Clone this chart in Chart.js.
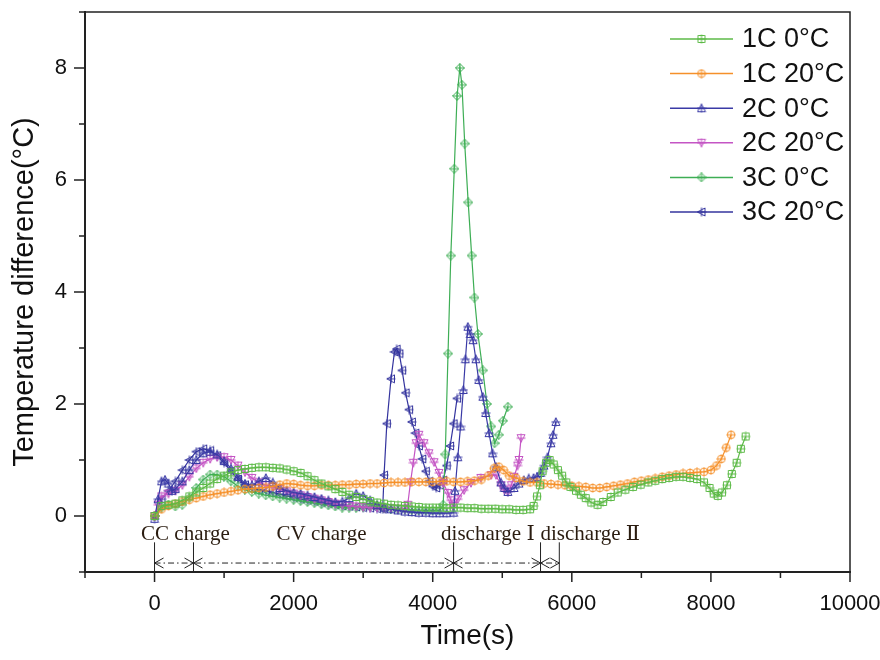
<!DOCTYPE html>
<html><head><meta charset="utf-8">
<script src="https://cdn.jsdelivr.net/npm/chart.js@4/dist/chart.umd.min.js"></script>
<style>html,body{margin:0;padding:0;background:#fff}</style>
</head><body>
<canvas id="c" width="880" height="660"></canvas>
<script>
// ---------- DATA ----------
const seriesNames = ['1C 0°C', '1C 20°C', '2C 0°C', '2C 20°C', '3C 0°C', '3C 20°C'];

const t_1C0 = [0,100,200,300,400,500,600,700,800,900,1000,1100,1200,1300,1400,1500,1600,1700,1800,1900,2000,2100,2200,2300,2400,2500,2600,2700,2800,2900,3000,3100,3200,3300,3400,3500,3600,3700,3800,3900,4000,4100,4200,4300,4400,4500,4600,4700,4800,4900,5000,5100,5200,5300,5400,5450,5500,5540,5580,5630,5680,5740,5800,5860,5920,5980,6060,6130,6200,6280,6370,6450,6560,6660,6770,6880,6990,7100,7200,7300,7400,7500,7600,7700,7800,7900,7980,8040,8100,8160,8230,8300,8370,8430,8500];
const v_1C0 = [0,0.18,0.2,0.22,0.28,0.35,0.42,0.5,0.58,0.66,0.72,0.78,0.82,0.84,0.86,0.87,0.87,0.86,0.85,0.83,0.8,0.77,0.71,0.64,0.58,0.53,0.48,0.43,0.38,0.34,0.3,0.27,0.24,0.22,0.2,0.19,0.18,0.17,0.16,0.15,0.15,0.15,0.14,0.15,0.15,0.14,0.14,0.13,0.13,0.13,0.12,0.12,0.11,0.11,0.12,0.18,0.35,0.55,0.8,0.95,1.0,0.92,0.82,0.72,0.6,0.52,0.45,0.38,0.32,0.24,0.2,0.25,0.34,0.42,0.47,0.52,0.56,0.6,0.63,0.66,0.68,0.7,0.7,0.68,0.66,0.6,0.5,0.4,0.36,0.42,0.55,0.75,0.95,1.2,1.42];

const t_1C20 = [0,100,200,300,400,500,600,700,800,900,1000,1100,1200,1300,1400,1500,1600,1700,1800,1900,2000,2100,2200,2300,2400,2500,2600,2700,2800,2900,3000,3100,3200,3300,3400,3500,3600,3700,3800,3900,4000,4100,4200,4300,4400,4500,4600,4700,4800,4880,4950,5020,5100,5200,5300,5400,5500,5600,5700,5800,5900,6000,6100,6200,6300,6400,6500,6600,6700,6800,6900,7000,7100,7200,7300,7400,7500,7600,7700,7800,7900,8000,8080,8150,8220,8290];
const v_1C20 = [0,0.12,0.18,0.22,0.26,0.29,0.32,0.35,0.38,0.4,0.42,0.44,0.46,0.48,0.49,0.5,0.51,0.53,0.56,0.58,0.57,0.55,0.54,0.54,0.55,0.55,0.55,0.56,0.56,0.57,0.57,0.58,0.58,0.59,0.6,0.6,0.6,0.61,0.61,0.61,0.61,0.62,0.62,0.61,0.61,0.62,0.63,0.65,0.72,0.85,0.88,0.82,0.72,0.68,0.62,0.6,0.6,0.58,0.57,0.56,0.55,0.54,0.53,0.52,0.5,0.5,0.52,0.54,0.56,0.58,0.61,0.63,0.65,0.67,0.7,0.72,0.74,0.76,0.77,0.78,0.79,0.82,0.9,1.02,1.22,1.45];

const t_2C0 = [0,50,100,150,200,250,300,400,500,600,700,800,900,1000,1100,1200,1300,1400,1500,1600,1700,1800,1900,2000,2100,2200,2300,2400,2500,2600,2700,2800,2900,3000,3100,3200,3300,3400,3500,3600,3700,3800,3900,4000,4100,4200,4300,4320,4360,4400,4440,4470,4505,4540,4580,4620,4660,4720,4760,4810,4860,4910,4980,5030,5080,5170,5240,5310,5380,5450,5500,5550,5600,5650,5700,5730,5770];
const v_2C0 = [-0.05,0.3,0.62,0.65,0.58,0.45,0.48,0.62,0.82,1.0,1.12,1.15,1.1,0.98,0.85,0.7,0.58,0.55,0.62,0.68,0.6,0.5,0.45,0.42,0.4,0.37,0.34,0.31,0.28,0.25,0.26,0.32,0.4,0.36,0.28,0.2,0.15,0.12,0.1,0.08,0.07,0.06,0.06,0.05,0.05,0.05,0.06,0.45,1.05,1.6,2.25,2.8,3.38,3.25,3.14,2.8,2.43,2.13,1.84,1.48,1.12,0.88,0.6,0.5,0.43,0.5,0.58,0.64,0.67,0.68,0.7,0.77,0.9,1.05,1.3,1.45,1.68];

const t_2C20 = [0,50,100,200,300,400,500,600,700,800,900,1000,1100,1200,1300,1400,1500,1600,1700,1800,1900,2000,2100,2200,2300,2400,2500,2600,2700,2800,2900,3000,3100,3200,3300,3400,3500,3600,3640,3680,3720,3760,3800,3875,3945,4020,4090,4150,4220,4260,4290,4360,4450,4550,4690,4840,4910,4980,5030,5080,5130,5170,5220,5240,5270];
const v_2C20 = [0,0.2,0.35,0.4,0.45,0.55,0.7,0.85,0.95,1.02,1.05,1.05,1.0,0.9,0.78,0.68,0.6,0.55,0.52,0.48,0.44,0.4,0.37,0.34,0.31,0.28,0.25,0.22,0.2,0.18,0.17,0.16,0.15,0.15,0.14,0.14,0.13,0.13,0.2,0.6,0.95,1.3,1.45,1.3,1.12,0.96,0.77,0.59,0.41,0.28,0.18,0.3,0.46,0.59,0.68,0.73,0.73,0.55,0.47,0.43,0.55,0.7,0.9,1.0,1.39];

const t_3C0 = [0,100,200,300,400,500,600,700,800,900,1000,1100,1200,1300,1400,1500,1600,1700,1800,1900,2000,2100,2200,2300,2400,2500,2600,2700,2800,2900,3000,3100,3200,3300,3400,3500,3600,3700,3800,3900,4000,4100,4150,4180,4220,4260,4310,4350,4390,4420,4460,4510,4560,4600,4650,4720,4780,4840,4890,4950,5010,5080];
const v_3C0 = [0,0.15,0.2,0.17,0.2,0.32,0.5,0.65,0.74,0.74,0.7,0.62,0.53,0.47,0.43,0.4,0.37,0.35,0.33,0.31,0.29,0.27,0.25,0.23,0.21,0.19,0.17,0.15,0.15,0.15,0.16,0.18,0.17,0.15,0.13,0.12,0.12,0.11,0.1,0.1,0.1,0.1,0.2,1.1,2.9,4.65,6.2,7.5,8.0,7.7,6.65,5.6,4.65,3.9,3.25,2.6,2.0,1.6,1.3,1.45,1.7,1.95];

const t_3C20 = [0,100,200,300,400,500,600,700,800,900,1000,1100,1200,1300,1400,1500,1600,1700,1800,1900,2000,2100,2200,2300,2400,2500,2600,2700,2800,2900,3000,3100,3200,3280,3300,3340,3400,3450,3480,3520,3560,3610,3660,3700,3750,3800,3850,3900,3950,4000,4050,4100,4150,4200,4250,4300,4350];
const v_3C20 = [0,0.3,0.45,0.62,0.82,1.0,1.15,1.2,1.17,1.08,0.95,0.8,0.66,0.56,0.5,0.47,0.45,0.42,0.39,0.36,0.33,0.3,0.28,0.26,0.24,0.22,0.2,0.18,0.17,0.16,0.15,0.14,0.13,0.12,0.73,1.65,2.45,2.93,2.98,2.9,2.6,2.2,1.9,1.68,1.48,1.25,1.02,0.8,0.62,0.53,0.5,0.55,0.64,0.9,1.25,1.65,2.1];

// phase annotation (time in s)
const phaseBounds = [0, 560, 4300, 5550, 5820];
const phaseLabels = ['CC charge', 'CV charge', 'discharge Ⅰ', 'discharge Ⅱ'];
const phaseLabelT = [445, 2400, 4120, 5550];

// ---------- STYLE ----------
const colors = ['#5cba47', '#f5902a', '#3a3aa6', '#c455c4', '#3eae55', '#34349e'];
const shapes = ['square', 'circle', 'triUp', 'triDown', 'diamond', 'triLeft'];
const tArr = [t_1C0, t_1C20, t_2C0, t_2C20, t_3C0, t_3C20];
const vArr = [v_1C0, v_1C20, v_2C0, v_2C20, v_3C0, v_3C20];
const SANS = '"Liberation Sans", Arial, sans-serif';

function makeMarker(shape, color) {
  const s = 10, c = document.createElement('canvas');
  c.width = s; c.height = s;
  const g = c.getContext('2d');
  g.strokeStyle = color; g.lineWidth = 1;
  g.beginPath();
  switch (shape) {
    case 'square': g.rect(1.5, 1.5, 7, 7); break;
    case 'circle': g.arc(5, 5, 3.8, 0, Math.PI * 2); break;
    case 'triUp': g.moveTo(5, 1); g.lineTo(9, 8.5); g.lineTo(1, 8.5); g.closePath(); break;
    case 'triDown': g.moveTo(5, 9); g.lineTo(9, 1.5); g.lineTo(1, 1.5); g.closePath(); break;
    case 'diamond': g.moveTo(5, 0.6); g.lineTo(9.4, 5); g.lineTo(5, 9.4); g.lineTo(0.6, 5); g.closePath(); break;
    case 'triLeft': g.moveTo(1, 5); g.lineTo(8.5, 1); g.lineTo(8.5, 9); g.closePath(); break;
  }
  g.moveTo(5, 0.5); g.lineTo(5, 9.5);
  g.moveTo(0.5, 5); g.lineTo(9.5, 5);
  g.stroke();
  return c;
}
const markers = shapes.map((s, i) => makeMarker(s, colors[i]));

const datasets = seriesNames.map((name, i) => ({
  label: name,
  data: tArr[i].map((t, k) => ({ x: t, y: vArr[i][k] })),
  showLine: true,
  borderColor: colors[i],
  borderWidth: 1.2,
  pointStyle: markers[i],
  pointRadius: 4,
  pointHoverRadius: 4,
  fill: false,
  tension: 0
}));

// ---------- PLUGINS ----------
const framePlugin = {
  id: 'frame',
  afterDraw(chart) {
    const { ctx, chartArea: a, scales: { x, y } } = chart;
    ctx.save();
    ctx.strokeStyle = '#222';
    ctx.lineWidth = 1.5;
    ctx.beginPath();
    ctx.moveTo(a.left, a.top); ctx.lineTo(a.right, a.top); ctx.lineTo(a.right, a.bottom);
    ctx.stroke();
    ctx.beginPath();
    x.ticks.forEach(tk => {
      const px = x.getPixelForValue(tk.value);
      const len = (tk.value % 2000 === 0) ? 10 : 6;
      ctx.moveTo(px, a.bottom); ctx.lineTo(px, a.bottom + len);
    });
    y.ticks.forEach(tk => {
      const py = y.getPixelForValue(tk.value);
      const len = (tk.value % 2 === 0) ? 11 : 6;
      ctx.moveTo(a.left, py); ctx.lineTo(a.left - len, py);
    });
    ctx.stroke();
    ctx.restore();
  }
};

const phasePlugin = {
  id: 'phases',
  afterDatasetsDraw(chart) {
    const { ctx, scales: { x, y } } = chart;
    const yArrow = y.getPixelForValue(-0.84);
    const yBarTop = y.getPixelForValue(-0.47);
    const yBarBot = y.getPixelForValue(-1);
    const yText = y.getPixelForValue(-0.42);
    const bx = phaseBounds.map(t => x.getPixelForValue(t));
    ctx.save();
    ctx.strokeStyle = '#222';
    ctx.lineWidth = 1;
    ctx.beginPath();
    bx.forEach(p => { ctx.moveTo(p, yBarTop); ctx.lineTo(p, yBarBot); });
    ctx.stroke();
    ctx.setLineDash([6, 3, 1.5, 3]);
    ctx.beginPath();
    ctx.moveTo(bx[0], yArrow); ctx.lineTo(bx[bx.length - 1], yArrow);
    ctx.stroke();
    ctx.setLineDash([]);
    ctx.beginPath();
    bx.forEach((p, i) => {
      if (i > 0) { ctx.moveTo(p - 9, yArrow - 5); ctx.lineTo(p, yArrow); ctx.lineTo(p - 9, yArrow + 5); }
      if (i < bx.length - 1) { ctx.moveTo(p + 9, yArrow - 5); ctx.lineTo(p, yArrow); ctx.lineTo(p + 9, yArrow + 5); }
    });
    ctx.stroke();
    ctx.fillStyle = '#2a1c10';
    ctx.font = '21px "Liberation Serif", "DejaVu Serif", serif';
    ctx.textBaseline = 'alphabetic';
    phaseLabels.forEach((s, i) => {
      const px = x.getPixelForValue(phaseLabelT[i]);
      ctx.textAlign = i < 2 ? 'center' : 'left';
      ctx.fillText(s, px, yText);
    });
    ctx.restore();
  }
};

const legendPlugin = {
  id: 'customLegend',
  afterDraw(chart) {
    const { ctx, chartArea: a } = chart;
    const x0 = a.right - 180, x1 = a.right - 117, tx = a.right - 108;
    const y0 = a.top + 27, dy = 34.6;
    ctx.save();
    ctx.font = '27px ' + SANS;
    ctx.textBaseline = 'middle';
    ctx.textAlign = 'left';
    chart.data.datasets.forEach((ds, i) => {
      const yy = y0 + i * dy;
      ctx.strokeStyle = ds.borderColor;
      ctx.lineWidth = 1.5;
      ctx.beginPath(); ctx.moveTo(x0, yy); ctx.lineTo(x1, yy); ctx.stroke();
      const m = ds.pointStyle;
      ctx.drawImage(m, (x0 + x1) / 2 - m.width / 2, yy - m.height / 2);
      ctx.fillStyle = '#111';
      ctx.fillText(ds.label, tx, yy + 1);
    });
    ctx.restore();
  }
};

function zeroPad(s) { s.paddingLeft = 0; s.paddingRight = 0; s.paddingTop = 0; s.paddingBottom = 0; }

// ---------- CHART ----------
new Chart(document.getElementById('c'), {
  type: 'scatter',
  data: { datasets },
  options: {
    responsive: false,
    animation: false,
    devicePixelRatio: 1,
    layout: { padding: { top: 12, right: 30, left: 0, bottom: 0 } },
    plugins: { legend: { display: false }, tooltip: { enabled: false } },
    scales: {
      x: {
        type: 'linear', min: -1000, max: 10000,
        afterFit(s) { s.height = 88; zeroPad(s); },
        grid: { display: false, drawTicks: false },
        border: { display: true, color: '#222', width: 2 },
        ticks: {
          stepSize: 1000, autoSkip: false, maxRotation: 0, padding: 19,
          color: '#111', font: { size: 22, family: SANS },
          callback: v => (v >= 0 && v % 2000 === 0) ? String(v) : ''
        },
        title: {
          display: true, text: 'Time(s)', color: '#111',
          font: { size: 28, family: SANS },
          padding: { top: 0, bottom: 7 }
        }
      },
      y: {
        type: 'linear', min: -1, max: 9,
        afterFit(s) { s.width = 85; zeroPad(s); },
        grid: { display: false, drawTicks: false },
        border: { display: true, color: '#222', width: 2 },
        ticks: {
          stepSize: 1, autoSkip: false, padding: 18,
          color: '#111', font: { size: 22, family: SANS },
          callback: v => (v >= 0 && v % 2 === 0) ? String(v) : ''
        },
        title: {
          display: true, text: 'Temperature difference(°C)', color: '#111',
          font: { size: 29, family: SANS },
          padding: { top: 8, bottom: 0 }
        }
      }
    }
  },
  plugins: [framePlugin, phasePlugin, legendPlugin]
});
</script>
</body></html>
